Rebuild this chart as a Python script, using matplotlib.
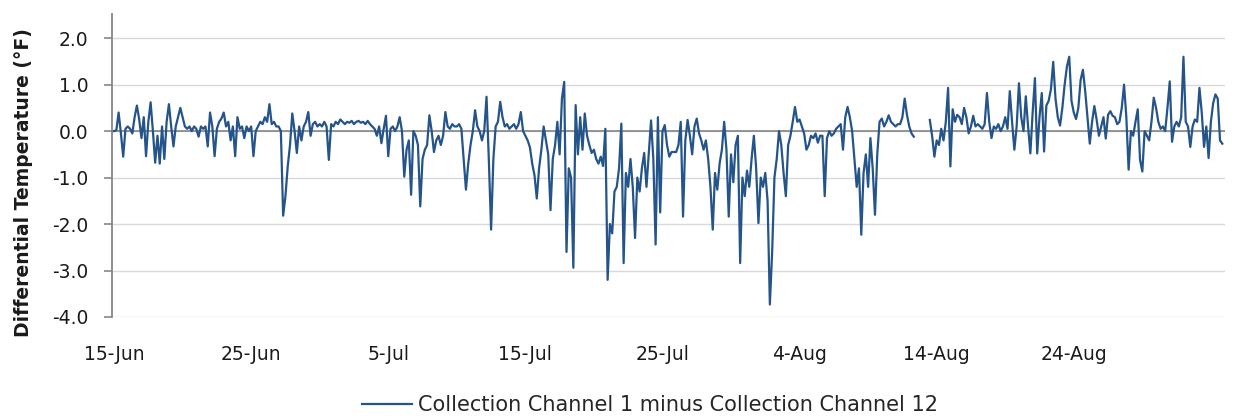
import matplotlib
matplotlib.use('Agg')
import matplotlib.pyplot as plt
import matplotlib.dates as mdates
from matplotlib.ticker import FormatStrFormatter
import numpy as np
import pandas as pd

nan = np.nan

# differential temperature (F), one reading every 4 hours from 15-Jun, one row per day
diff_temp = [
    0.0, 0.02, 0.4, -0.05, -0.55, 0.05,
    0.1, 0.05, -0.05, 0.3, 0.55, 0.25,
    -0.15, 0.3, -0.54, 0.2, 0.62, 0.0,
    -0.68, -0.1, -0.7, 0.1, -0.6, 0.2,
    0.58, 0.1, -0.33, 0.1, 0.3, 0.5,
    0.3, 0.1, 0.05, 0.1, 0.0, 0.1,
    0.05, -0.12, 0.1, 0.05, 0.1, -0.33,
    0.4, 0.1, -0.54, 0.05, 0.2, 0.27,
    0.4, 0.1, 0.2, -0.2, 0.1, -0.54,
    0.3, 0.05, 0.1, -0.15, 0.1, 0.0,
    0.1, -0.54, 0.0, 0.1, 0.2, 0.15,
    0.3, 0.2, 0.58, 0.15, 0.2, 0.1,
    0.1, 0.0, -1.82, -1.4, -0.76, -0.3,
    0.38, 0.0, -0.47, 0.1, -0.2, 0.1,
    0.2, 0.41, -0.1, 0.15, 0.2, 0.1,
    0.15, 0.1, 0.2, 0.1, -0.62, 0.15,
    0.1, 0.2, 0.15, 0.25, 0.2, 0.15,
    0.2, 0.18, 0.22, 0.15, 0.2, 0.22,
    0.18, 0.2, 0.15, 0.22, 0.15, 0.1,
    0.05, -0.1, 0.1, -0.26, 0.05, 0.33,
    -0.54, 0.05, 0.1, 0.0, 0.1, 0.3,
    0.0, -0.98, -0.4, -0.2, -1.37, 0.0,
    -0.1, -0.3, -1.62, -0.6, -0.4, -0.3,
    0.34, 0.0, -0.45, -0.2, -0.1, -0.3,
    -0.1, 0.41, 0.1, 0.05, 0.15, 0.1,
    0.1, 0.15, 0.05, -0.6, -1.26, -0.7,
    -0.3, 0.0, 0.45, 0.1, 0.0, -0.2,
    0.0, 0.74, -0.6, -2.12, -0.6, 0.1,
    0.2, 0.63, 0.3, 0.1, 0.15, 0.05,
    0.1, 0.15, 0.05, 0.15, 0.41, 0.0,
    -0.1, -0.2, -0.35, -0.7, -0.95, -1.45,
    -0.8, -0.4, 0.1, -0.2, -0.5, -1.7,
    -0.6, -0.3, 0.2, -0.5, 0.7, 1.06,
    -2.6, -0.8, -1.0, -2.94, 0.56, -0.5,
    0.3, -0.4, 0.38, -0.1, -0.3, -0.47,
    -0.4, -0.6, -0.7, -0.55, -0.75, 0.05,
    -3.2, -2.0, -2.2, -1.3, -1.2, -0.8,
    0.16, -2.84, -0.9, -1.2, -0.6, -1.2,
    -2.3, -1.0, -1.3, -0.8, -0.47, -1.2,
    -0.5, 0.23, -0.6, -2.44, 0.3, -1.75,
    0.0, 0.13, -0.3, -0.55, -0.45, -0.45,
    -0.45, -0.3, 0.2, -1.84, -0.2, 0.24,
    -0.1, -0.5, 0.1, 0.27, -0.05, -0.2,
    -0.4, -0.2, -0.6, -1.2, -2.12, -0.9,
    -1.26, -0.7, -0.4, 0.2, -0.4, -1.84,
    -0.5, -1.1, -0.3, -0.1, -2.84, -1.0,
    -1.4, -0.85, -1.2, -0.6, -0.1, -0.8,
    -1.98, -1.0, -1.2, -0.9, -1.5, -3.73,
    -2.6, -1.0, -0.6, 0.0, -0.3, -0.9,
    -1.4, -0.3, -0.1, 0.2, 0.52, 0.2,
    0.25, 0.1, -0.05, -0.4, -0.3, -0.1,
    -0.15, -0.05, -0.25, -0.1, -0.1, -1.4,
    -0.15, 0.0, -0.1, -0.05, 0.05, 0.1,
    0.15, -0.4, 0.3, 0.52, 0.3, 0.0,
    -0.6, -1.2, -0.8, -2.23, -0.9, -0.5,
    -1.2, -0.15, -0.8, -1.8, -0.5, 0.2,
    0.27, 0.1, 0.2, 0.34, 0.2, 0.15,
    0.1, 0.15, 0.15, 0.3, 0.7, 0.35,
    0.1, -0.05, -0.12, nan, nan, nan,
    nan, nan, nan, 0.24, -0.1, -0.55,
    -0.2, -0.3, 0.05, -0.2, 0.2, 0.93,
    -0.76, 0.47, 0.2, 0.35, 0.3, 0.15,
    0.5, 0.3, -0.05, 0.1, 0.33, 0.1,
    0.15, 0.1, 0.05, 0.15, 0.82, 0.2,
    -0.15, 0.1, 0.05, 0.15, 0.0, 0.1,
    0.3, 0.05, 0.86, 0.2, -0.4, 0.1,
    1.03, 0.3, 0.0, 0.75, 0.1, -0.48,
    0.4, 1.14, -0.48, 0.3, 0.82, -0.44,
    0.55, 0.65, 0.9, 1.49, 0.7, 0.3,
    0.12, 0.5, 1.0, 1.39, 1.6, 0.65,
    0.4, 0.26, 0.5, 1.1, 1.32, 0.86,
    0.3, -0.27, 0.2, 0.54, 0.25, -0.1,
    0.1, 0.3, -0.16, 0.35, 0.43, 0.33,
    0.3, 0.15, 0.2, 0.5, 1.0, 0.3,
    -0.83, 0.0, -0.1, 0.2, 0.47, -0.62,
    -0.87, 0.0, -0.1, -0.2, 0.2, 0.72,
    0.5, 0.2, 0.05, 0.1, 0.0, 0.5,
    1.07, -0.23, 0.1, 0.2, 0.1, 0.3,
    1.6, 0.2, 0.1, -0.34, 0.1, 0.25,
    0.2, 0.93, 0.4, -0.34, 0.1, -0.58,
    0.2, 0.6, 0.79, 0.7, -0.2, -0.27,
]

start = pd.Timestamp('2014-06-15')
times = pd.date_range(start, periods=len(diff_temp), freq='4h')
tick_dates = pd.date_range(start, periods=8, freq='10D')
y_ticks = [-4.0, -3.0, -2.0, -1.0, 0.0, 1.0, 2.0]
series_name = 'Collection Channel 1 minus Collection Channel 12'

fig = plt.figure(figsize=(12.36, 4.2), dpi=100)
ax = fig.add_axes([112 / 1236, 1 - 317 / 420, 1113 / 1236, 303 / 420])

ax.plot(times, diff_temp, color='#24548a', lw=1.6, label=series_name, zorder=3)
ax.axhline(0, color='#868686', lw=1.2, zorder=2)

ax.set_ylim(-4, 2.52)
ax.set_xlim(start - pd.Timedelta(hours=3.6), start + pd.Timedelta(days=81.03))
ax.set_yticks(y_ticks)
ax.yaxis.set_major_formatter(FormatStrFormatter('%.1f'))
ax.set_xticks(tick_dates)
ax.xaxis.set_major_formatter(mdates.DateFormatter('%-d-%b'))

ax.grid(axis='y', color='#d9d9d9', lw=1.0)
ax.set_axisbelow(True)
for side in ['top', 'right', 'bottom']:
    ax.spines[side].set_visible(False)
ax.spines['left'].set_color('#868686')
ax.spines['left'].set_linewidth(1.3)

ax.tick_params(axis='y', length=6, width=1.2, color='#868686', pad=11,
               labelsize=13.5, labelcolor='#1a1a1a')
ax.tick_params(axis='x', length=0, pad=20, labelsize=13.5, labelcolor='#1a1a1a')

fig.text(24 / 1236, 1 - 183 / 420, 'Differential Temperature (°F)', rotation=90,
         ha='center', va='center', fontsize=13.5, fontweight='bold', color='#1a1a1a')

fig.legend(loc='center', bbox_to_anchor=(650 / 1236, 1 - 405 / 420), frameon=False,
           fontsize=15, handlelength=2.4, handletextpad=0.3, labelcolor='#262626')

fig.savefig('out.png', dpi=100)
